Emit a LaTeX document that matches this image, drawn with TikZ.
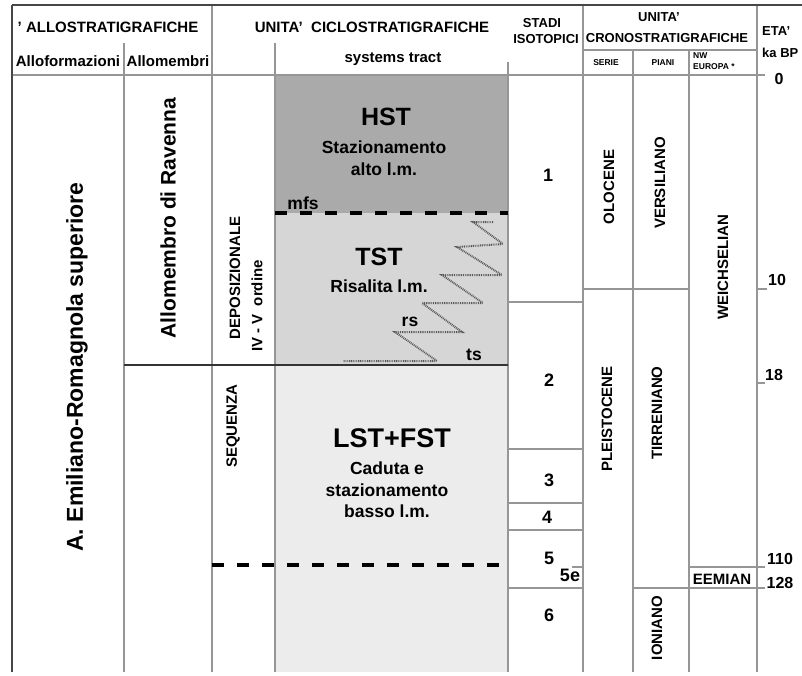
\documentclass[tikz,border=0pt]{standalone}
\usepackage{fontspec}
\setmainfont{Liberation Sans}
\usetikzlibrary{positioning}
\usepackage{xcolor}
\definecolor{hstgray}{RGB}{170,170,170}
\definecolor{tstgray}{RGB}{214,214,214}
\definecolor{lstgray}{RGB}{236,236,236}
\definecolor{rulegray}{RGB}{150,150,150}
\definecolor{framegray}{RGB}{70,70,70}
\tikzset{
    gridline/.style={draw=rulegray, line width=1.2pt},
    frameline/.style={draw=framegray, line width=1.8pt},
    surface/.style={draw=black, line width=4pt, dash pattern=on 12pt off 13pt},
    boundary/.style={draw=black!80, line width=2.5pt},
    ramp/.style={draw=black!65, line width=2pt, dash pattern=on 0.9pt off 0.9pt},
    hdr/.style={font=\fontsize{15}{15}\selectfont\bfseries, inner sep=0pt},
    subhdr/.style={font=\fontsize{13}{13}\selectfont\bfseries, inner sep=0pt},
    tinyhdr/.style={font=\fontsize{8.5}{8.5}\selectfont\bfseries, inner sep=0pt},
    vlabel/.style={font=\fontsize{15}{15}\selectfont\bfseries, inner sep=0pt, rotate=90},
    tract/.style={font=\fontsize{25}{25}\selectfont\bfseries, inner sep=0pt},
    tracttext/.style={font=\fontsize{17.5}{17.5}\selectfont\bfseries, inner sep=0pt},
    stage/.style={font=\fontsize{18}{18}\selectfont\bfseries, inner sep=0pt},
    age/.style={font=\fontsize{16}{16}\selectfont\bfseries, inner sep=0pt}
}
\begin{document}
\begin{tikzpicture}[x=1pt,y=-1pt]
    \useasboundingbox (0,0) rectangle (802,675);
    % Systems tracts
    \fill[hstgray] (275,75) rectangle (508,213);
    \fill[tstgray] (275,213) rectangle (508,365);
    \fill[lstgray] (275,365) rectangle (508,672);
    % Table rules
    \draw[gridline] (124,43) -- (124,672);
    \draw[gridline] (212,5) -- (212,672);
    \draw[gridline] (275,43) -- (275,672);
    \draw[gridline] (508,62) -- (508,672);
    \draw[gridline] (583,5) -- (583,672);
    \draw[gridline] (633,50) -- (633,672);
    \draw[gridline] (689,50) -- (689,672);
    \draw[gridline] (757,5) -- (757,672);
    \draw[gridline] (12,75) -- (765,75);
    \draw[gridline] (583,50) -- (757,50);
    \draw[gridline] (508,302) -- (583,302);
    \draw[gridline] (508,449) -- (583,449);
    \draw[gridline] (508,503) -- (583,503);
    \draw[gridline] (508,530) -- (583,530);
    \draw[gridline] (508,588) -- (583,588);
    \draw[gridline] (572,567) -- (583,567);
    \draw[gridline] (583,289) -- (689,289);
    \draw[gridline] (689,567) -- (765,567);
    \draw[gridline] (633,588) -- (765,588);
    \draw[gridline] (757,289) -- (767,289);
    \draw[gridline] (757,383) -- (765,383);
    \draw[frameline] (12,5) -- (802,5);
    \draw[frameline] (12,5) -- (12,672);
    % Surfaces
    \draw[boundary] (124,365) -- (508,365);
    \draw[surface] (275,213) -- (508,213);
    \draw[surface] (212,565) -- (508,565);
    \draw[ramp] (493,222) -- (473,222) -- (503,244) -- (457,247) -- (502,275) -- (442,275)
        -- (483,303) -- (422,303) -- (462,332) -- (395,332) -- (437,361) -- (343,361);
    % Headers
    \node[hdr] (allohdr) at (108,27) {' ALLOSTRATIGRAFICHE};
    \node[hdr] (ciclohdr) at (372,27) {UNITA'\ \ CICLOSTRATIGRAFICHE};
    \node[hdr] (alloform) at (68,61) {Alloformazioni};
    \node[hdr] (allomem) at (168,61) {Allomembri};
    \node[hdr] (systract) at (393,59) {systems tract};
    \node[subhdr] (stadihdr) at (542,23) {STADI};
    \node[subhdr] (isohdr) at (546,39) {ISOTOPICI};
    \node[subhdr] (unitahdr) at (659,17) {UNITA'};
    \node[subhdr] (cronohdr) at (667,38) {CRONOSTRATIGRAFICHE};
    \node[tinyhdr] (serie) at (606,63) {SERIE};
    \node[tinyhdr] (piani) at (663,63) {PIANI};
    \node[tinyhdr, anchor=west] (nw) at (693,56) {NW};
    \node[tinyhdr, anchor=west] (europa) at (693,67) {EUROPA *};
    \node[subhdr, anchor=west] (etahdr) at (762,31) {ETA'};
    \node[subhdr, anchor=west] (kabp) at (762,53) {ka BP};
    % Allostratigraphic units
    \node[vlabel, font=\fontsize{23}{23}\selectfont\bfseries] (alloform1) at (77,367) {A. Emiliano-Romagnola superiore};
    \node[vlabel, font=\fontsize{21}{21}\selectfont\bfseries] (allomem1) at (168,218) {Allomembro di Ravenna};
    \node[vlabel] (depo) at (235,278) {DEPOSIZIONALE};
    \node[vlabel] (ordine) at (257,306) {IV - V\ \ ordine};
    \node[vlabel] (sequenza) at (233,426) {SEQUENZA};
    % Systems tract labels
    \node[tract] (hst) at (386,117) {HST};
    \node[tracttext, align=center] (hsttext) at (384,158) {Stazionamento\\[4pt]alto l.m.};
    \node[tracttext] (mfs) at (303,203) {mfs};
    \node[tract] (tst) at (379,257) {TST};
    \node[tracttext] (tsttext) at (379,286) {Risalita l.m.};
    \node[tracttext] (rs) at (410,322) {rs};
    \node[tracttext] (ts) at (474,355) {ts};
    \node[tract, font=\fontsize{27}{27}\selectfont\bfseries] (lst) at (392,438) {LST+FST};
    \node[tracttext, align=center] (lsttext) at (387,490) {Caduta e\\[4pt]stazionamento\\[4pt]basso l.m.};
    % Isotope stages
    \node[stage] (st1) at (548,175) {1};
    \node[stage] (st2) at (549,380) {2};
    \node[stage] (st3) at (549,480) {3};
    \node[stage] (st4) at (547,517) {4};
    \node[stage] (st5) at (549,558) {5};
    \node[stage] (st5e) at (570,575) {5e};
    \node[stage] (st6) at (549,615) {6};
    % Chronostratigraphic units
    \node[vlabel] (olocene) at (609,187) {OLOCENE};
    \node[vlabel] (versiliano) at (660,183) {VERSILIANO};
    \node[vlabel] (weichselian) at (723,267) {WEICHSELIAN};
    \node[vlabel] (pleistocene) at (607,419) {PLEISTOCENE};
    \node[vlabel] (tirreniano) at (657,413) {TIRRENIANO};
    \node[vlabel] (ioniano) at (657,628) {IONIANO};
    \node[hdr] (eemian) at (722,579) {EEMIAN};
    % Ages
    \node[age] (age0) at (779,79) {0};
    \node[age] (age10) at (777,280) {10};
    \node[age] (age18) at (774,375) {18};
    \node[age] (age110) at (780,559) {110};
    \node[age] (age128) at (780,583) {128};
\end{tikzpicture}
\end{document}
